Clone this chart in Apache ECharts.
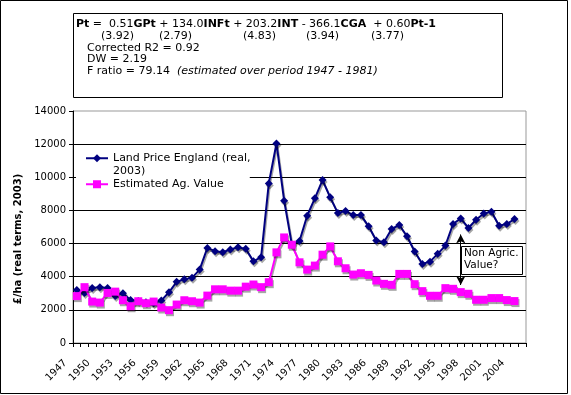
<!DOCTYPE html>
<html><head><meta charset="utf-8">
<script src="https://cdn.jsdelivr.net/npm/echarts@6/dist/echarts.min.js"></script>
<style>html,body{margin:0;padding:0;background:#fff}#c{width:571px;height:395px}</style>
</head><body><div id="c"></div>
<script>
const years = ['1947','1948','1949','1950','1951','1952','1953','1954','1955','1956',
  '1957','1958','1959','1960','1961','1962','1963','1964','1965','1966',
  '1967','1968','1969','1970','1971','1972','1973','1974','1975','1976',
  '1977','1978','1979','1980','1981','1982','1983','1984','1985','1986',
  '1987','1988','1989','1990','1991','1992','1993','1994','1995','1996',
  '1997','1998','1999','2000','2001','2002','2003','2004','2005'];
const landPrice = [3200,3020,3320,3370,3320,2840,3000,2600,2540,2460,
  2400,2560,3060,3690,3850,3930,4430,5740,5540,5480,
  5640,5780,5680,4930,5180,9630,12040,8590,5950,6160,
  7680,8730,9830,8790,7840,7960,7720,7720,7040,6180,
  6080,6880,7120,6440,5520,4770,4910,5380,5880,7180,
  7520,6940,7440,7820,7920,7080,7180,7480];
const estimatedAgValue = [2830,3370,2500,2440,3020,3100,2580,2220,2520,2400,
  2500,2140,1980,2320,2580,2520,2440,2860,3240,3240,
  3160,3160,3400,3530,3370,3670,5470,6370,5930,4870,
  4430,4670,5330,5830,4930,4510,4130,4210,4110,3770,
  3570,3510,4170,4170,3550,3130,2850,2850,3310,3270,
  3070,2970,2610,2610,2710,2710,2590,2530];
const seriesNames = ['Land Price England (real, 2003)', 'Estimated Ag. Value'];
const yAxisName = '£/ha (real terms, 2003)';
const annotationYear = '1997';
const annotationRange = [6550, 3500];
const annotationText = 'Non Agric.\nValue?';
const eqLine1 = '{b|Pt} =  0.51{b|GPt} + 134.0{b|INFt} + 203.2{b|INT} - 366.1{b|CGA}  + 0.60{b|Pt-1}';
const tStats = ['(3.92)','(2.79)','(4.83)','(3.94)','(3.77)'];
const statLines = ['Corrected R2 = 0.92', 'DW = 2.19', 'F ratio = 79.14  {i|(estimated over period 1947 - 1981)}'];

const FONT = 'DejaVu Sans';
const FS = 11;
const chart = echarts.init(document.getElementById('c'));
const shadow = {shadowColor:'rgba(0,0,0,0.35)', shadowOffsetX:1, shadowOffsetY:2, shadowBlur:0};
const tStatX = [101,159,243,306,371];

const graphics = [
  {type:'rect', shape:{x:0.5,y:0.5,width:567,height:393}, style:{fill:'none',stroke:'#000',lineWidth:1}, z:0},
  {type:'rect', shape:{x:73.5,y:13.5,width:429,height:84}, style:{fill:'#fff',stroke:'#000',lineWidth:1}, z:10},
  {type:'text', x:76, y:24, z:11, style:{text:eqLine1, font:FS+'px '+FONT, fill:'#000', verticalAlign:'middle',
    rich:{b:{fontWeight:'bold', fontSize:FS, fontFamily:FONT}}}},
  ...tStats.map((t,k)=>({type:'text', x:tStatX[k], y:36, z:11, style:{text:t, font:FS+'px '+FONT, fill:'#000', verticalAlign:'middle'}})),
  ...statLines.map((t,k)=>({type:'text', x:87, y:48+k*11.6, z:11, style:{text:t, font:FS+'px '+FONT, fill:'#000', verticalAlign:'middle',
    rich:{i:{fontStyle:'italic', fontSize:FS, fontFamily:FONT}}}})),
  {type:'rect', shape:{x:461.5,y:246.5,width:61,height:28}, style:{fill:'#fff',stroke:'#000',lineWidth:1}, z:10},
  {type:'text', x:464, y:247, z:11, style:{text:annotationText, font:'10.5px '+FONT, fill:'#000', lineHeight:12.4}}
];

chart.setOption({
  animation:false,
  backgroundColor:'#fff',
  grid:{left:73, right:45, top:111, bottom:52, show:true, borderColor:'#999', borderWidth:1, backgroundColor:'transparent'},
  legend:[
    {data:[seriesNames[0]], orient:'vertical', left:85, top:139.5, padding:0, itemWidth:22, itemHeight:10, z:6,
     formatter:()=>'\nLand Price England (real,\n2003)',
     textStyle:{fontFamily:FONT, fontSize:11, color:'#000', lineHeight:12.5}},
    {data:[seriesNames[1]], orient:'vertical', left:76, top:172, padding:[6,26,6,9], itemWidth:22, itemHeight:10, z:5,
     backgroundColor:'#fff',
     textStyle:{fontFamily:FONT, fontSize:11, color:'#000', lineHeight:12.5}}
  ],
  xAxis:{type:'category', data:years, boundaryGap:true,
    axisLine:{lineStyle:{color:'#000', width:1}},
    axisTick:{show:true, interval:0, length:4, lineStyle:{color:'#000'}},
    axisLabel:{interval:2, rotate:45, fontFamily:FONT, fontSize:10, color:'#000', margin:7, padding:[0,16,0,0]},
    splitLine:{show:false}},
  yAxis:{type:'value', min:0, max:14000, interval:2000,
    name:yAxisName, nameLocation:'middle', nameGap:46, nameRotate:90,
    nameTextStyle:{fontFamily:FONT, fontSize:10, fontWeight:'bold', color:'#000', padding:[0,24,0,0]},
    axisLine:{show:true, lineStyle:{color:'#000', width:1}},
    axisTick:{show:true, length:4, lineStyle:{color:'#000'}},
    axisLabel:{fontFamily:FONT, fontSize:10, color:'#000', margin:7, formatter:v=>String(v)},
    splitLine:{show:true, showMaxLine:false, showMinLine:false, lineStyle:{color:'#000', width:1}}},
  series:[
    {name:seriesNames[0], type:'line', data:landPrice, symbol:'diamond', symbolSize:8, showSymbol:true, showAllSymbol:true,
     lineStyle:Object.assign({color:'#000080', width:2}, shadow),
     itemStyle:Object.assign({color:'#000080'}, shadow), z:2},
    {name:seriesNames[1], type:'line', data:estimatedAgValue, symbol:'rect', symbolSize:8, showSymbol:true, showAllSymbol:true,
     lineStyle:Object.assign({color:'#ff00ff', width:2}, shadow),
     itemStyle:Object.assign({color:'#ff00ff'}, shadow), z:3,
     markLine:{silent:true, symbol:['arrow','arrow'], symbolSize:[7,9], label:{show:false},
       lineStyle:{color:'#000', width:1, type:'solid', shadowColor:'transparent'},
       data:[[{coord:[annotationYear, annotationRange[0]]},{coord:[annotationYear, annotationRange[1]]}]]}}
  ],
  graphic:graphics
});
</script></body></html>
